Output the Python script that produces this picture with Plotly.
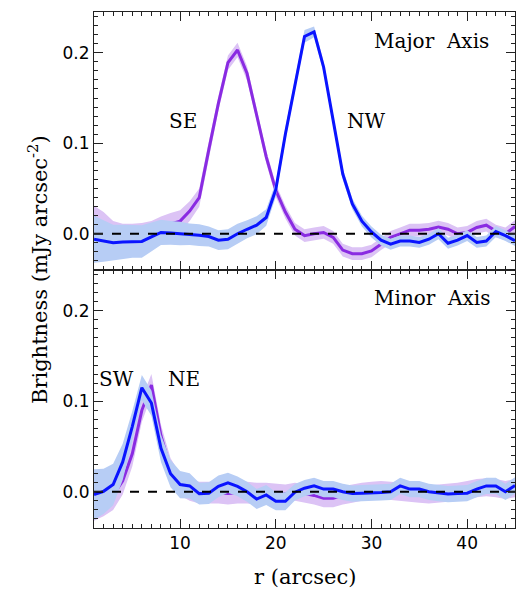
import plotly.graph_objects as go

r = list(range(1, 46))

# Major axis
major_se = [0.018, 0.011, 0.002, -0.001, -0.001, 0.0, 0.002, 0.007, 0.011, 0.014,
            0.025, 0.040, 0.093, 0.144, 0.189, 0.203, 0.177, 0.132, 0.085, 0.048,
            0.024, 0.005, -0.002, 0.0, 0.0015, -0.004, -0.018, -0.022, -0.022, -0.019,
            -0.011, -0.004, 0.0, 0.004, 0.004, 0.005, 0.0075, 0.005, 0.0, 0.0015,
            0.007, 0.0095, 0.003, 0.0, 0.008]
major_se_err = [0.013, 0.013, 0.012, 0.012, 0.012, 0.012, 0.012, 0.012, 0.012, 0.012,
                0.011, 0.010, 0.009, 0.008, 0.008, 0.008, 0.008, 0.007, 0.007, 0.007,
                0.007, 0.007, 0.007, 0.007, 0.007, 0.007, 0.007, 0.007, 0.007, 0.007,
                0.007, 0.007, 0.007, 0.007, 0.007, 0.007, 0.007, 0.007, 0.007, 0.007,
                0.007, 0.007, 0.007, 0.007, 0.007]
major_nw = [-0.006, -0.008, -0.010, -0.009, -0.0085, -0.0085, -0.0035, 0.0015, 0.001, 0.0003,
            -0.0005, -0.0015, -0.003, -0.007, -0.006, 0.0, 0.005, 0.0095, 0.018, 0.049,
            0.110, 0.165, 0.218, 0.223, 0.184, 0.125, 0.066, 0.033, 0.014, 0.002,
            -0.007, -0.0115, -0.008, -0.008, -0.0095, -0.006, 0.0, -0.0105, -0.007, -0.002,
            -0.0095, -0.008, 0.0025, -0.002, -0.0075]
major_nw_err = [0.026, 0.023, 0.020, 0.019, 0.018, 0.018, 0.016, 0.014, 0.013, 0.013,
                0.012, 0.012, 0.011, 0.011, 0.011, 0.011, 0.010, 0.010, 0.009, 0.008,
                0.007, 0.007, 0.007, 0.006, 0.006, 0.006, 0.006, 0.006, 0.006, 0.006,
                0.006, 0.006, 0.006, 0.006, 0.006, 0.006, 0.006, 0.006, 0.006, 0.006,
                0.006, 0.006, 0.006, 0.006, 0.006]

# Minor axis
minor_ne = [-0.012, -0.009, -0.004, 0.012, 0.042, 0.090, 0.118, 0.062, 0.025, 0.008,
            0.002, -0.001, -0.001, -0.001, -0.002, -0.001, -0.001, -0.002, -0.002, -0.003,
            -0.002, 0.0, -0.002, -0.004, -0.007, -0.007, -0.004, -0.002, 0.0, 0.001,
            0.002, 0.001, 0.0, -0.001, -0.002, -0.003, -0.002, -0.001, 0.0, 0.002,
            0.004, 0.005, 0.004, 0.002, 0.004]
minor_ne_err = [0.020, 0.018, 0.016, 0.015, 0.014, 0.013, 0.012, 0.012, 0.012, 0.012,
                0.012, 0.012, 0.012, 0.012, 0.012, 0.012, 0.012, 0.012, 0.012, 0.012,
                0.010, 0.010, 0.010, 0.010, 0.010, 0.010, 0.010, 0.010, 0.010, 0.010,
                0.010, 0.010, 0.010, 0.010, 0.010, 0.010, 0.010, 0.010, 0.010, 0.010,
                0.010, 0.010, 0.010, 0.010, 0.010]
minor_sw = [-0.003, 0.0005, 0.008, 0.033, 0.072, 0.115, 0.098, 0.048, 0.020, 0.008,
            0.0065, -0.002, -0.0015, 0.006, 0.010, 0.006, 0.0, -0.008, -0.0035, -0.0105,
            -0.0105, -0.0005, 0.004, 0.0065, 0.003, 0.003, 0.0, -0.002, -0.0015, -0.0007,
            -0.0007, 0.0, 0.0065, 0.003, 0.003, 0.0, -0.0015, -0.0025, -0.002, -0.0015,
            0.003, 0.0065, 0.0065, 0.0, 0.007]
minor_sw_err = [0.028, 0.025, 0.023, 0.020, 0.017, 0.014, 0.014, 0.015, 0.015, 0.015,
                0.014, 0.012, 0.012, 0.012, 0.011, 0.011, 0.011, 0.011, 0.011, 0.010,
                0.010, 0.009, 0.009, 0.009, 0.009, 0.009, 0.009, 0.009, 0.009, 0.009,
                0.009, 0.009, 0.009, 0.009, 0.009, 0.009, 0.009, 0.009, 0.009, 0.009,
                0.009, 0.009, 0.009, 0.009, 0.009]

y_label_ticks = [0.0, 0.1, 0.2]
y_half_ticks = [0.05, 0.15]
x_label_ticks = [10, 20, 30, 40]

PURPLE = "#8A2BE2"
PURPLE_BAND = "#DCC3F5"
BLUE = "#0A14FF"
BLUE_BAND = "#B7CDF5"

fig = go.Figure()


def add_series(y, err, line_color, band_color, xa, ya):
    lo = [v - e for v, e in zip(y, err)]
    hi = [v + e for v, e in zip(y, err)]
    fig.add_trace(go.Scatter(x=r + r[::-1], y=hi + lo[::-1], fill="toself",
                             fillcolor=band_color, line=dict(width=0),
                             mode="lines", hoverinfo="skip", showlegend=False,
                             xaxis=xa, yaxis=ya))
    fig.add_trace(go.Scatter(x=r, y=y, mode="lines",
                             line=dict(color=line_color, width=3),
                             showlegend=False, xaxis=xa, yaxis=ya))


def add_zero(xa, ya):
    fig.add_trace(go.Scatter(x=[r[0], r[-1]], y=[0, 0], mode="lines",
                             line=dict(color="black", width=2, dash="dash"),
                             showlegend=False, hoverinfo="skip", xaxis=xa, yaxis=ya))


add_series(major_se, major_se_err, PURPLE, PURPLE_BAND, "x", "y")
add_series(major_nw, major_nw_err, BLUE, BLUE_BAND, "x", "y")
add_zero("x", "y")
add_series(minor_ne, minor_ne_err, PURPLE, PURPLE_BAND, "x2", "y2")
add_series(minor_sw, minor_sw_err, BLUE, BLUE_BAND, "x2", "y2")
add_zero("x2", "y2")

AX = "#222222"
YR = [-0.04, 0.245]
tickfont = dict(family="DejaVu Sans", size=17, color="black")
xcommon = dict(range=[1, 45], showline=True, linecolor=AX, linewidth=1,
               mirror="allticks", ticks="inside", ticklen=9, tickcolor=AX,
               tickmode="array", tickvals=x_label_ticks, showgrid=False, zeroline=False,
               minor=dict(dtick=1, ticks="inside", ticklen=4, tickcolor=AX, showgrid=False),
               tickfont=tickfont)
ycommon = dict(range=YR, showline=True, linecolor=AX, linewidth=1,
               mirror="allticks", ticks="inside", ticklen=9, tickcolor=AX,
               tickmode="array", tickvals=y_label_ticks,
               ticktext=["%.1f" % v for v in y_label_ticks], showgrid=False, zeroline=False,
               minor=dict(dtick=0.01, ticks="inside", ticklen=4, tickcolor=AX, showgrid=False),
               tickfont=tickfont)
yhalf = dict(range=YR, showline=False, mirror="ticks", ticks="inside", ticklen=9,
             tickcolor=AX, tickmode="array", tickvals=y_half_ticks,
             showticklabels=False, showgrid=False, zeroline=False)

fig.update_layout(
    width=525, height=600,
    margin=dict(l=94, r=10, t=12, b=72),
    plot_bgcolor="white", paper_bgcolor="white",
    xaxis=dict(xcommon, domain=[0, 1], anchor="y", showticklabels=False),
    yaxis=dict(ycommon, domain=[0.5, 1], anchor="x"),
    xaxis2=dict(xcommon, domain=[0, 1], anchor="y2"),
    yaxis2=dict(ycommon, domain=[0, 0.5], anchor="x2"),
    yaxis3=dict(yhalf, overlaying="y", anchor="x", side="left"),
    yaxis4=dict(yhalf, overlaying="y2", anchor="x2", side="left"),
)

txtfont = dict(family="DejaVu Serif", size=20, color="black")
fig.add_annotation(x=36.3, y=0.213, xref="x", yref="y", text="Major  Axis",
                   showarrow=False, font=txtfont)
fig.add_annotation(x=10.26, y=0.125, xref="x", yref="y", text="SE",
                   showarrow=False, font=txtfont)
fig.add_annotation(x=29.5, y=0.125, xref="x", yref="y", text="NW",
                   showarrow=False, font=txtfont)
fig.add_annotation(x=36.3, y=0.214, xref="x2", yref="y2", text="Minor  Axis",
                   showarrow=False, font=txtfont)
fig.add_annotation(x=3.3, y=0.125, xref="x2", yref="y2", text="SW",
                   showarrow=False, font=txtfont)
fig.add_annotation(x=10.37, y=0.125, xref="x2", yref="y2", text="NE",
                   showarrow=False, font=txtfont)

fig.add_annotation(x=-0.133, y=0.5, xref="paper", yref="paper",
                   xanchor="center", yanchor="middle",
                   text="Brightness (mJy arcsec<sup>-2</sup>)", textangle=-90,
                   showarrow=False, font=dict(family="DejaVu Serif", size=21, color="black"))
fig.add_annotation(x=0.5, y=-0.095, xref="paper", yref="paper",
                   xanchor="center", yanchor="middle",
                   text="r (arcsec)", showarrow=False,
                   font=dict(family="DejaVu Serif", size=21, color="black"))

fig.write_html("out.html")
